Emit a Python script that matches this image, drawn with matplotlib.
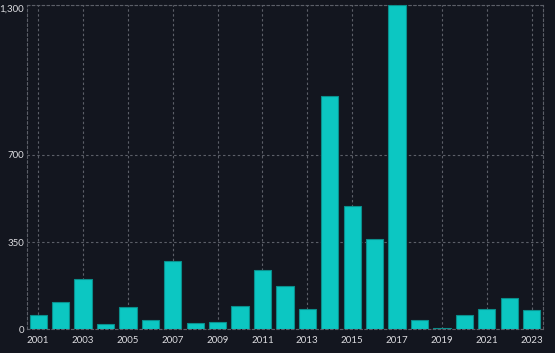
import matplotlib
matplotlib.use("Agg")
import matplotlib.pyplot as plt
from matplotlib.ticker import FuncFormatter

years = list(range(2001, 2024))
values = [57, 110, 202, 22, 90, 37, 275, 24, 28, 92, 239, 172, 81,
          937, 493, 361, 1300, 37, 4, 56, 81, 126, 79]
yticks = [0, 350, 700, 1300]

bg = "#13161f"
bar_color = "#0cc7c2"
edge_color = "#0a8f8c"
grid_color = "#5c5f68"

plt.rcParams['font.family'] = ['Lato', 'DejaVu Sans']

fig = plt.figure(figsize=(5.55, 3.53), dpi=100, facecolor=bg)
ax = fig.add_axes([0.0486, 0.067, 0.9294, 0.919])
ax.set_facecolor(bg)

x = list(range(len(years)))
ax.bar(x, values, width=0.77, color=bar_color, edgecolor=edge_color,
       linewidth=0.8, zorder=3)

ax.set_xlim(-0.5, len(years) - 0.5)
ax.set_ylim(0, 1300)
ax.set_yticks(yticks)
ax.yaxis.set_major_formatter(FuncFormatter(lambda v, p: f"{int(v):,}"))
xt = x[::2]
ax.set_xticks(xt)
ax.set_xticklabels([str(years[i]) for i in xt])

dash = (0, (2.2, 2.2))
ax.grid(True, color=grid_color, linestyle=dash, linewidth=0.8, zorder=0)
for s in ax.spines.values():
    s.set_color(grid_color)
    s.set_linestyle(dash)
    s.set_linewidth(0.8)

ax.tick_params(axis='both', length=0, colors="#dcdce0", labelsize=7)
ax.tick_params(axis='x', pad=5)
ax.tick_params(axis='y', pad=2)
for lab in ax.get_yticklabels():
    lab.set_horizontalalignment('right')
ylabs = ax.get_yticklabels()
ylabs[-1].set_verticalalignment('top')
ylabs[-1].set_y(1300)

fig.savefig("out.png", dpi=100, facecolor=bg)
